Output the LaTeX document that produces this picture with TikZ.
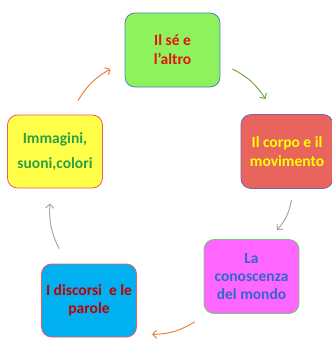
\documentclass[tikz,border=0pt]{standalone}
\usepackage{fontspec}
\setmainfont{Carlito}
\usetikzlibrary{arrows.meta}
\definecolor{verdebox}{HTML}{8EF25C}
\definecolor{bordoblu}{HTML}{4F81BD}
\definecolor{rossotxt}{HTML}{E81010}
\definecolor{giallobox}{HTML}{FFFF4A}
\definecolor{verdetxt}{HTML}{2EA043}
\definecolor{salmone}{HTML}{E8645C}
\definecolor{viola}{HTML}{8064A2}
\definecolor{gialloTxt}{HTML}{FFFF00}
\definecolor{magentabox}{HTML}{FF66FF}
\definecolor{verdechiaro}{HTML}{70C870}
\definecolor{blutxt}{HTML}{3366CC}
\definecolor{azzurro}{HTML}{00B0F0}
\definecolor{rossobordo}{HTML}{F05A5A}
\definecolor{rossoscuro}{HTML}{C00000}
\definecolor{arancio}{HTML}{F08238}
\definecolor{verdefreccia}{HTML}{70A848}
\definecolor{grigio}{HTML}{A8A8A8}
\begin{document}
\begin{tikzpicture}[x=1pt, y=-1pt, >={Straight Barb[length=4pt,width=8pt]}, line width=0.9pt,
	every node/.style={rounded corners=10pt, minimum width=95pt, minimum height=74pt, align=center, font=\bfseries\fontsize{15.5}{19}\selectfont, line width=0.8pt},
	freccia/.style={->, line width=1pt, bend left=15}]

	\useasboundingbox (0,0) rectangle (332,343);

	\node [draw=bordoblu, fill=verdebox, text=rossotxt] (S) at (172.5,50) {Il sé e\\l’altro};
	\node [draw=viola, fill=salmone, text=gialloTxt, minimum width=92pt] (C) at (287,151.5) {Il corpo e il\\movimento};
	\node [draw=verdechiaro, fill=magentabox, text=blutxt, font=\bfseries\fontsize{15.5}{18}\selectfont] (M) at (251.5,276.5) {La\\conoscenza\\del mondo};
	\node [draw=rossobordo, fill=azzurro, text=rossoscuro, minimum height=73pt, font=\bfseries\fontsize{15.5}{18}\selectfont] (D) at (89,300.5) {I discorsi~ e le\\parole};
	\node [draw=rossobordo, fill=giallobox, text=verdetxt, minimum height=73pt, font=\bfseries\fontsize{15.5}{25}\selectfont] (I) at (55,151.5) {Immagini,\\suoni,colori};

	% frecce del ciclo
	\draw [freccia, arancio] ([shift={(23,-14)}]I.north) to ([shift={(-14,19)}]S.west);
	\draw [freccia, verdefreccia] ([shift={(12,19)}]S.east) to ([shift={(-21.5,-15)}]C.north);
	\draw [freccia, grigio] ([shift={(4.5,11)}]C.south) to ([shift={(25.5,-9)}]M.north);
	\draw [freccia, arancio] ([shift={(-9,8)}]M.south west) to ([shift={(15,-3)}]D.south east);
	\draw [freccia, grigio] ([shift={(18,-15)}]D.north west) to ([shift={(-5,15)}]I.south);

\end{tikzpicture}
\end{document}
